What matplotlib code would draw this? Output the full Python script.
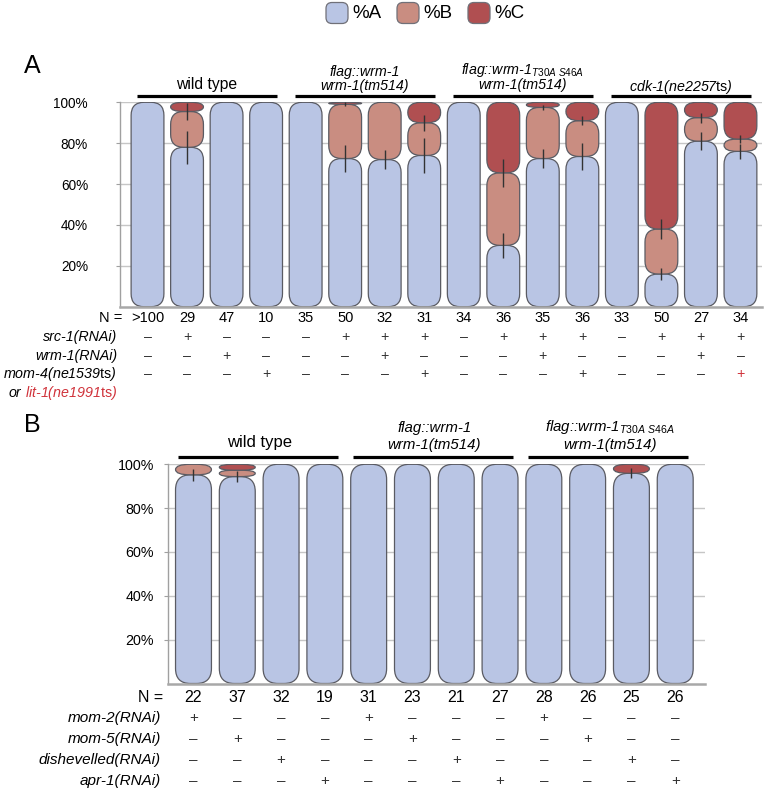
import matplotlib
matplotlib.use('Agg')
import matplotlib.pyplot as plt
import matplotlib.transforms as mtransforms
from matplotlib.patches import FancyBboxPatch
import numpy as np

plt.rcParams['font.family'] = ['Liberation Sans', 'DejaVu Sans']
plt.rcParams['mathtext.fontset'] = 'custom'
plt.rcParams['mathtext.rm'] = 'Liberation Sans'
plt.rcParams['mathtext.it'] = 'Liberation Sans:italic'
plt.rcParams['mathtext.bf'] = 'Liberation Sans:bold'

# ---------------- data ----------------
# Panel A
n_a = ['>100', '29', '47', '10', '35', '50', '32', '31', '34', '36', '35', '36', '33', '50', '27', '34']
pct_a_A = [100, 78, 100, 100, 100, 72.5, 72, 74, 100, 30, 72.5, 73.5, 100, 16, 81, 76]
pct_a_B = [0, 17.5, 0, 0, 0, 26.5, 28, 16, 0, 35.5, 25, 17.5, 0, 22, 11.5, 6]
pct_a_C = [0, 4.5, 0, 0, 0, 1, 0, 10, 0, 34.5, 2.5, 9, 0, 62, 7.5, 18]
err_a_A = [0, 8, 0, 0, 0, 6.5, 4.7, 8.4, 0, 6, 4.7, 6.8, 0, 3, 4.5, 3.5]
err_a_B = [0, 4, 0, 0, 0, 1, 0, 4, 0, 7, 1.3, 2.2, 0, 5, 2.5, 2]
src1 = ['-', '+', '-', '-', '-', '+', '+', '+', '-', '+', '+', '+', '-', '+', '+', '+']
wrm1 = ['-', '-', '+', '-', '-', '-', '+', '-', '-', '-', '+', '-', '-', '-', '+', '-']
mom4 = ['-', '-', '-', '+', '-', '-', '-', '+', '-', '-', '-', '+', '-', '-', '-', '+']
groups_a = ['wild type', 'flag::wrm-1\nwrm-1(tm514)',
            'flag::wrm-1 T30A S46A\nwrm-1(tm514)', 'cdk-1(ne2257ts)']

# Panel B
n_b = ['22', '37', '32', '19', '31', '23', '21', '27', '28', '26', '25', '26']
pct_b_A = [95.2, 94.4, 100, 100, 100, 100, 100, 100, 100, 100, 95.9, 100]
pct_b_B = [4.8, 2.9, 0, 0, 0, 0, 0, 0, 0, 0, 0, 0]
pct_b_C = [0, 2.7, 0, 0, 0, 0, 0, 0, 0, 0, 4.1, 0]
err_b_A = [2.6, 2.5, 0, 0, 0, 0, 0, 0, 0, 0, 2.3, 0]
mom2 = ['+', '-', '-', '-', '+', '-', '-', '-', '+', '-', '-', '-']
mom5 = ['-', '+', '-', '-', '-', '+', '-', '-', '-', '+', '-', '-']
dsh = ['-', '-', '+', '-', '-', '-', '+', '-', '-', '-', '+', '-']
apr1 = ['-', '-', '-', '+', '-', '-', '-', '+', '-', '-', '-', '+']

col_A = '#b9c5e4'
col_B = '#c98d81'
col_C = '#b04f51'
edge = '#5a5b63'

W, H = 768, 790
fig = plt.figure(figsize=(W / 100, H / 100), dpi=100)


def px_axes(left, top, right, bottom):
    return fig.add_axes([left / W, 1 - bottom / H, (right - left) / W, (bottom - top) / H])


# overlay in pixel coordinates for annotations
ov = fig.add_axes([0, 0, 1, 1])
ov.set_xlim(0, W)
ov.set_ylim(H, 0)
ov.axis('off')
ov.set_zorder(5)


def style_axes(ax, fs, pad):
    ax.set_ylim(0, 100)
    ax.set_yticks([20, 40, 60, 80, 100])
    ax.set_yticklabels(['20%', '40%', '60%', '80%', '100%'], fontsize=fs)
    ax.set_xticks([])
    ax.yaxis.grid(True, color='#c6c6c6', lw=1)
    ax.set_axisbelow(True)
    for s in ['top', 'right']:
        ax.spines[s].set_visible(False)
    ax.spines['left'].set_color('#a0a0a0')
    ax.spines['left'].set_linewidth(1)
    ax.spines['bottom'].set_color('#a8a8a8')
    ax.spines['bottom'].set_linewidth(1.8)
    ax.tick_params(axis='y', length=3, color='#a0a0a0', pad=pad)
    ax.patch.set_alpha(0)


def rounded_stack(ax, layers, colors, width, radius_px, axw, axh):
    x0, x1 = ax.get_xlim()
    y0, y1 = ax.get_ylim()
    ppx = axw / (x1 - x0)
    ppy = axh / (y1 - y0)
    n = len(layers[0])
    x = np.arange(n)
    bottom = np.zeros(n)
    for vals, col in zip(layers, colors):
        vals = np.asarray(vals, float)
        bars = ax.bar(x, vals, width, bottom=bottom, color=col)
        for rect in list(bars.patches):
            h = rect.get_height()
            bx, by, bw = rect.get_x(), rect.get_y(), rect.get_width()
            rect.remove()
            if h <= 0:
                continue
            rx = min(radius_px, bw * ppx / 2)
            ry = min(radius_px, h * ppy / 2 * 0.999)
            aspect = (ry * ppx) / (rx * ppy)
            p = FancyBboxPatch((bx, by), bw, h,
                               boxstyle=f"round,pad=0,rounding_size={rx / ppx}",
                               mutation_aspect=aspect, fc=col, ec=edge, lw=0.9, zorder=2)
            ax.add_patch(p)
        bottom = bottom + vals


def sign(s):
    return '+' if s == '+' else '\u2013'


# ---------------- Panel A ----------------
axA_l, axA_t, axA_r, axA_b = 120, 102.3, 762, 306.7
axA = px_axes(axA_l, axA_t, axA_r, axA_b)
axA.set_xlim(-0.696, 15.545)
style_axes(axA, 9.8, 20)
rounded_stack(axA, [pct_a_A, pct_a_B, pct_a_C], [col_A, col_B, col_C], 0.83, 13,
              axA_r - axA_l, axA_b - axA_t)
xa = np.arange(len(pct_a_A))
axA.errorbar(xa, pct_a_A, yerr=err_a_A, fmt='none', ecolor='#333333', elinewidth=1, capsize=0, zorder=3)
axA.errorbar(xa, np.add(pct_a_A, pct_a_B), yerr=err_a_B, fmt='none', ecolor='#333333',
             elinewidth=1, capsize=0, zorder=3)

trA = mtransforms.blended_transform_factory(axA.transData, ov.transData)

# group headers A
grpA_ranges = [(0, 3), (4, 7), (8, 11), (12, 15)]
for (i0, i1) in grpA_ranges:
    axA.plot([i0 - 0.27, i1 + 0.27], [96, 96], color='black', lw=2.3, transform=trA,
             clip_on=False, solid_capstyle='butt')
axA.text(1.5, 85, groups_a[0], transform=trA, ha='center', va='center', fontsize=11.3)
g2 = groups_a[1].split('\n')
axA.text(5.5, 72, g2[0], transform=trA, ha='center', va='center', fontsize=10.3, style='italic')
axA.text(5.5, 86, g2[1], transform=trA, ha='center', va='center', fontsize=10.3, style='italic')
g3 = groups_a[2].split('\n')
g3_main, g3_sub = g3[0].split(' ', 1)
axA.text(9.5, 70, g3_main + r'$_{\mathit{' + g3_sub.replace(' ', r'\ ') + '}}$', transform=trA,
         ha='center', va='center', fontsize=10.3, style='italic')
axA.text(9.5, 85, g3[1], transform=trA, ha='center', va='center', fontsize=10.3, style='italic')
g4 = groups_a[3].replace('ts)', r'$\mathrm{ts}$)')
axA.text(13.5, 87, g4, transform=trA, ha='center', va='center', fontsize=10.3, style='italic')

# rows A
rowsA_y = [318, 337, 356, 374]
ov.text(122, rowsA_y[0], 'N =', ha='right', va='center', fontsize=10.5)
for i, v in enumerate(n_a):
    axA.text(i, rowsA_y[0], v, transform=trA, ha='center', va='center', fontsize=10.5)
labelsA = ['src-1(RNAi)', 'wrm-1(RNAi)', r'mom-4(ne1539$\mathrm{ts}$)']
for lab, y in zip(labelsA, rowsA_y[1:]):
    ov.text(117, y, lab, ha='right', va='center', fontsize=10.3, style='italic')
for row, y in zip([src1, wrm1, mom4], rowsA_y[1:]):
    for i, s in enumerate(row):
        c = '#d0323a' if (row is mom4 and i == len(row) - 1) else '#333333'
        axA.text(i, y, sign(s), transform=trA, ha='center', va='center', fontsize=10.3, color=c)
red_lab = ov.text(117, 397, r'lit-1(ne1991$\mathrm{ts}$)', ha='right', va='baseline',
                  fontsize=10.3, style='italic', color='#d0323a')

# ---------------- Panel B ----------------
axB_l, axB_t, axB_r, axB_b = 168, 464.3, 705, 683.5
axB = px_axes(axB_l, axB_t, axB_r, axB_b)
axB.set_xlim(-0.582, 11.68)
style_axes(axB, 10.3, 7)
rounded_stack(axB, [pct_b_A, pct_b_B, pct_b_C], [col_A, col_B, col_C], 0.82, 15,
              axB_r - axB_l, axB_b - axB_t)
xb = np.arange(len(pct_b_A))
axB.errorbar(xb, pct_b_A, yerr=err_b_A, fmt='none', ecolor='#333333', elinewidth=1, capsize=0, zorder=3)

trB = mtransforms.blended_transform_factory(axB.transData, ov.transData)
for (i0, i1) in [(0, 3), (4, 7), (8, 11)]:
    axB.plot([i0 - 0.36, i1 + 0.3], [457, 457], color='black', lw=2.3, transform=trB,
             clip_on=False, solid_capstyle='butt')
axB.text(1.5, 443, 'wild type', transform=trB, ha='center', va='center', fontsize=12)
axB.text(5.5, 428, g2[0], transform=trB, ha='center', va='center', fontsize=10.8, style='italic')
axB.text(5.5, 445, g2[1], transform=trB, ha='center', va='center', fontsize=10.8, style='italic')
axB.text(9.5, 427, g3_main + r'$_{\mathit{' + g3_sub.replace(' ', r'\ ') + '}}$', transform=trB,
         ha='center', va='center', fontsize=10.8, style='italic')
axB.text(9.5, 445, g3[1], transform=trB, ha='center', va='center', fontsize=10.8, style='italic')

rowsB_y = [697, 718, 739, 760, 781]
ov.text(163, rowsB_y[0], 'N =', ha='right', va='center', fontsize=11.5)
for i, v in enumerate(n_b):
    axB.text(i, rowsB_y[0], v, transform=trB, ha='center', va='center', fontsize=11.5)
labelsB = ['mom-2(RNAi)', 'mom-5(RNAi)', 'dishevelled(RNAi)', 'apr-1(RNAi)']
for lab, row, y in zip(labelsB, [mom2, mom5, dsh, apr1], rowsB_y[1:]):
    ov.text(161, y, lab, ha='right', va='center', fontsize=11, style='italic')
    for i, s in enumerate(row):
        axB.text(i, y, sign(s), transform=trB, ha='center', va='center', fontsize=11, color='#333333')

# panel letters
ov.text(24, 66, 'A', ha='left', va='center', fontsize=18)
ov.text(24, 425, 'B', ha='left', va='center', fontsize=18)

# legend
for (bx, lab, col) in [(326, '%A', col_A), (397, '%B', col_B), (468, '%C', col_C)]:
    ov.add_patch(FancyBboxPatch((bx, 2.5), 22, 21, boxstyle='round,pad=0,rounding_size=6',
                                fc=col, ec='#707078', lw=0.9))
    ov.text(bx + 26, 13.5, lab, ha='left', va='center', fontsize=13.5)

# place "or" left of the red label, on the same baseline
fig.canvas.draw()
bb = red_lab.get_window_extent()
ov.text(bb.x0 - 4, 397, 'or', ha='right', va='baseline', fontsize=10.3, style='italic', color='black')

fig.savefig('out.png', dpi=100)
